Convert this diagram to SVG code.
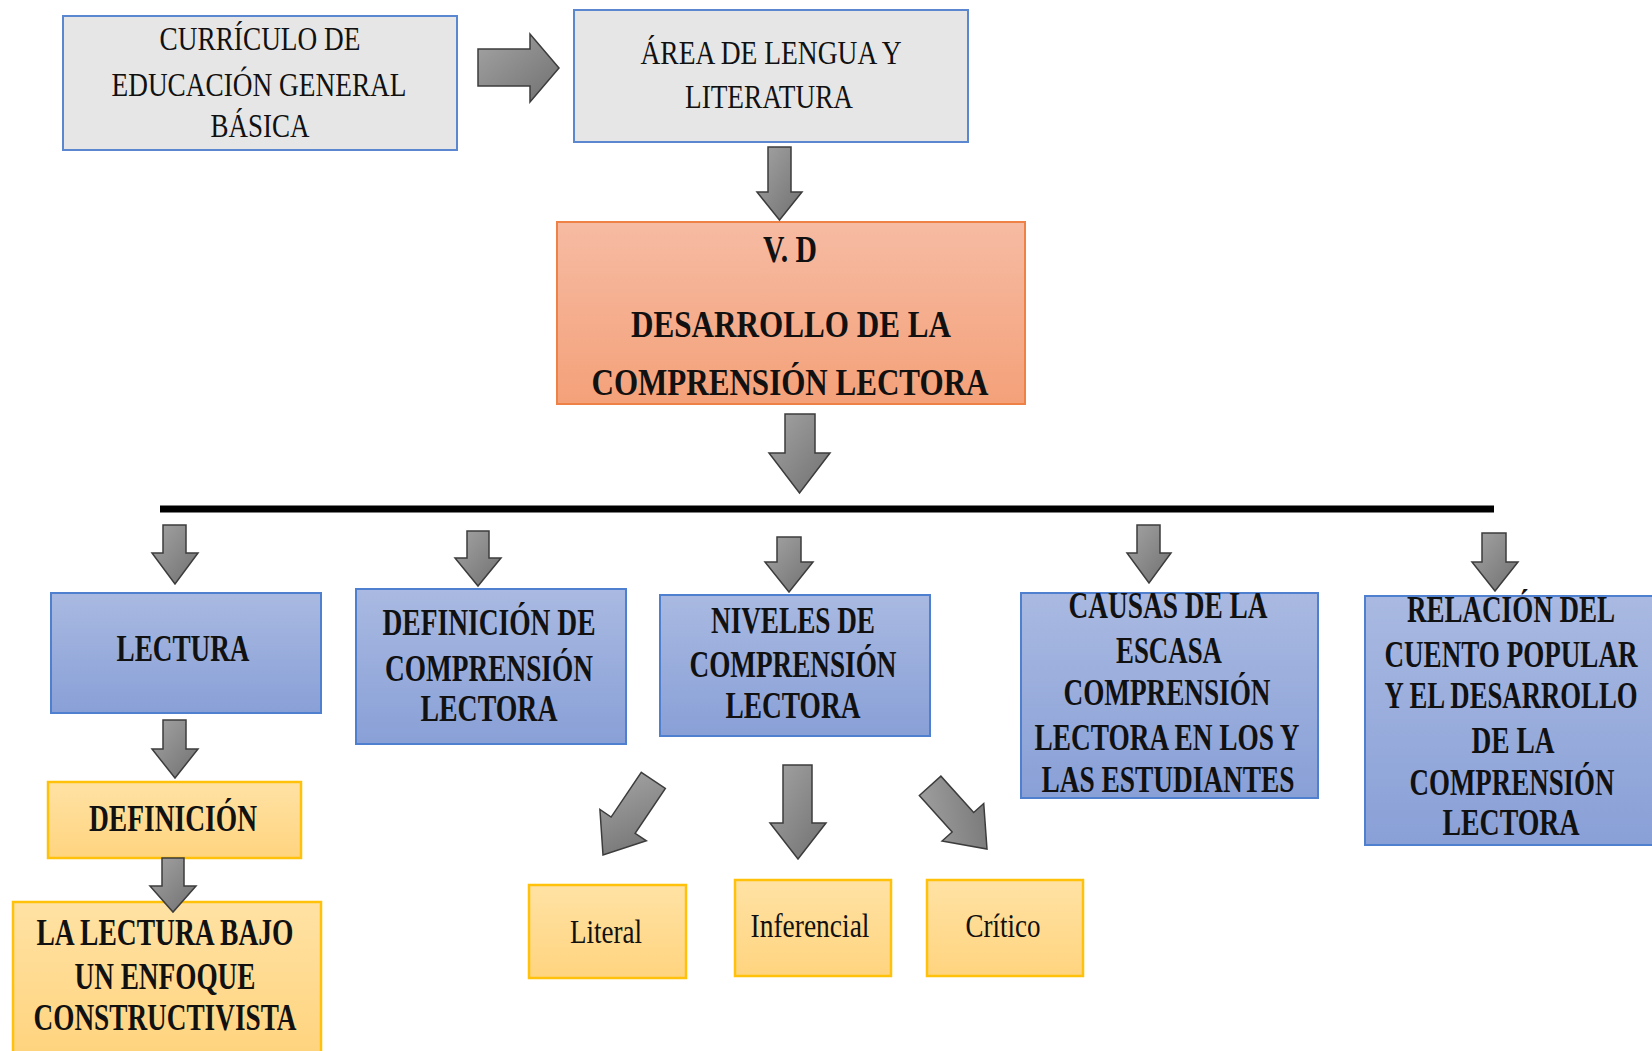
<svg xmlns="http://www.w3.org/2000/svg" width="1652" height="1051" viewBox="0 0 1652 1051">
<defs>
<linearGradient id="gOrange" x1="0" y1="0" x2="0" y2="1"><stop offset="0" stop-color="#f6bba3"/><stop offset="1" stop-color="#f4a179"/></linearGradient>
<linearGradient id="gBlue" x1="0" y1="0" x2="0" y2="1"><stop offset="0" stop-color="#a9b9e1"/><stop offset="1" stop-color="#89a0d7"/></linearGradient>
<linearGradient id="gYellow" x1="0" y1="0" x2="0" y2="1"><stop offset="0" stop-color="#ffe2a4"/><stop offset="1" stop-color="#ffd47f"/></linearGradient>
<linearGradient id="gArrow" x1="0" y1="0" x2="1" y2="1"><stop offset="0" stop-color="#a4a4a4"/><stop offset="1" stop-color="#707070"/></linearGradient>
</defs>
<style>
.gray{fill:#e7e6e6;stroke:#5b87d1;stroke-width:2}
.orange{fill:url(#gOrange);stroke:#ee8146;stroke-width:2}
.blue{fill:url(#gBlue);stroke:#4f7fcf;stroke-width:2}
.yellow{fill:url(#gYellow);stroke:#ffc10a;stroke-width:2.5}
.bluebd{fill:none;stroke:#4f7fcf;stroke-width:2}
.yellowbd{fill:none;stroke:#ffc10a;stroke-width:2.5}
.arr{fill:url(#gArrow);stroke:#3c3c3c;stroke-width:1.5;stroke-linejoin:miter}
text{font-family:"Liberation Serif","Times New Roman",serif;fill:#111;text-anchor:middle}
.r{font-size:34px}
.b{font-size:37px;font-weight:bold}
.vd{font-size:38px;font-weight:bold}
</style>
<rect width="1652" height="1051" fill="#ffffff"/>

<g id="curriculo">
<rect class="gray" x="63" y="16" width="394" height="134"/>
<text class="r" x="260" y="50" textLength="201" lengthAdjust="spacingAndGlyphs">CURRÍCULO DE</text>
<text class="r" x="259" y="96" textLength="295" lengthAdjust="spacingAndGlyphs">EDUCACIÓN GENERAL</text>
<text class="r" x="260" y="137" textLength="99" lengthAdjust="spacingAndGlyphs">BÁSICA</text>
</g>

<g id="area">
<rect class="gray" x="574" y="10" width="394" height="132"/>
<text class="r" x="771" y="64" textLength="261" lengthAdjust="spacingAndGlyphs">ÁREA DE LENGUA Y</text>
<text class="r" x="769" y="108" textLength="168" lengthAdjust="spacingAndGlyphs">LITERATURA</text>
</g>

<g id="vd">
<rect class="orange" x="557" y="222" width="468" height="182"/>
<text class="vd" x="790" y="262" textLength="54" lengthAdjust="spacingAndGlyphs">V. D</text>
<text class="vd" x="791" y="337" textLength="320" lengthAdjust="spacingAndGlyphs">DESARROLLO DE LA</text>
<text class="vd" x="790" y="395" textLength="397" lengthAdjust="spacingAndGlyphs">COMPRENSIÓN LECTORA</text>
</g>

<g id="lectura">
<rect class="blue" x="51" y="593" width="270" height="120"/>
<text class="b" x="183" y="661" textLength="133" lengthAdjust="spacingAndGlyphs">LECTURA</text>
</g>

<g id="definicion-comprension">
<rect class="blue" x="356" y="589" width="270" height="155"/>
<text class="b" x="489" y="635" textLength="213" lengthAdjust="spacingAndGlyphs">DEFINICIÓN DE</text>
<text class="b" x="489" y="681" textLength="208" lengthAdjust="spacingAndGlyphs">COMPRENSIÓN</text>
<text class="b" x="489" y="721" textLength="137" lengthAdjust="spacingAndGlyphs">LECTORA</text>
</g>

<g id="niveles">
<rect class="blue" x="660" y="595" width="270" height="141"/>
<text class="b" x="793" y="633" textLength="164" lengthAdjust="spacingAndGlyphs">NIVELES DE</text>
<text class="b" x="793" y="677" textLength="207" lengthAdjust="spacingAndGlyphs">COMPRENSIÓN</text>
<text class="b" x="793" y="718" textLength="135" lengthAdjust="spacingAndGlyphs">LECTORA</text>
</g>

<g id="causas">
<rect class="blue" x="1021" y="593" width="297" height="205"/>
<text class="b" x="1168" y="618" textLength="199" lengthAdjust="spacingAndGlyphs">CAUSAS DE LA</text>
<text class="b" x="1169" y="663" textLength="106" lengthAdjust="spacingAndGlyphs">ESCASA</text>
<text class="b" x="1167" y="705" textLength="207" lengthAdjust="spacingAndGlyphs">COMPRENSIÓN</text>
<text class="b" x="1167" y="750" textLength="265" lengthAdjust="spacingAndGlyphs">LECTORA EN LOS Y</text>
<text class="b" x="1168" y="792" textLength="253" lengthAdjust="spacingAndGlyphs">LAS ESTUDIANTES</text>
</g>

<g id="relacion">
<rect x="1365" y="596" width="287" height="249" fill="url(#gBlue)"/>
<path class="bluebd" d="M1652,596 H1365 V845 H1652"/>
<text class="b" x="1511" y="622" textLength="208" lengthAdjust="spacingAndGlyphs">RELACIÓN DEL</text>
<text class="b" x="1511" y="667" textLength="253" lengthAdjust="spacingAndGlyphs">CUENTO POPULAR</text>
<text class="b" x="1511" y="708" textLength="253" lengthAdjust="spacingAndGlyphs">Y EL DESARROLLO</text>
<text class="b" x="1513" y="753" textLength="83" lengthAdjust="spacingAndGlyphs">DE LA</text>
<text class="b" x="1512" y="795" textLength="205" lengthAdjust="spacingAndGlyphs">COMPRENSIÓN</text>
<text class="b" x="1511" y="835" textLength="137" lengthAdjust="spacingAndGlyphs">LECTORA</text>
</g>

<g id="definicion">
<rect class="yellow" x="48" y="782" width="253" height="76"/>
<text class="b" x="173" y="831" textLength="168" lengthAdjust="spacingAndGlyphs">DEFINICIÓN</text>
</g>

<g id="constructivista">
<rect x="13" y="902" width="308" height="149" fill="url(#gYellow)"/>
<path class="yellowbd" d="M13,1051 V902 H321 V1051"/>
<text class="b" x="165" y="945" textLength="257" lengthAdjust="spacingAndGlyphs">LA LECTURA BAJO</text>
<text class="b" x="165" y="989" textLength="181" lengthAdjust="spacingAndGlyphs">UN ENFOQUE</text>
<text class="b" x="165" y="1030" textLength="263" lengthAdjust="spacingAndGlyphs">CONSTRUCTIVISTA</text>
</g>

<g id="literal">
<rect class="yellow" x="529" y="885" width="157" height="93"/>
<text class="r" x="606" y="943" textLength="72" lengthAdjust="spacingAndGlyphs">Literal</text>
</g>

<g id="inferencial">
<rect class="yellow" x="735" y="880" width="156" height="96"/>
<text class="r" x="810" y="937" textLength="119" lengthAdjust="spacingAndGlyphs">Inferencial</text>
</g>

<g id="critico">
<rect class="yellow" x="927" y="880" width="156" height="96"/>
<text class="r" x="1003" y="937" textLength="75" lengthAdjust="spacingAndGlyphs">Crítico</text>
</g>

<g id="connectors">
<line x1="160" y1="509" x2="1494" y2="509" stroke="#000" stroke-width="7"/>
<polygon class="arr" points="478,49 530,49 530,34 559,68 530,102 530,86 478,86"/>
<polygon class="arr" points="768,147 791,147 791,192 802,192 779.5,220 757,192 768,192"/>
<polygon class="arr" points="785,414 815,414 815,453 830,453 799.5,493 769,453 785,453"/>
<polygon class="arr" points="163,525 186,525 186,553 198,553 175,584 152,553 163,553"/>
<polygon class="arr" points="467,531 489,531 489,558 501,558 478,586 455,558 467,558"/>
<polygon class="arr" points="777,537 801,537 801,562 813,562 789,592 765,562 777,562"/>
<polygon class="arr" points="1137,525 1160,525 1160,553 1171,553 1149,583 1127,553 1137,553"/>
<polygon class="arr" points="1482,533 1506,533 1506,562 1518,562 1495,591 1472,562 1482,562"/>
<polygon class="arr" points="163,720 186,720 186,749 198,749 175,778 152,749 163,749"/>
<polygon class="arr" points="162,858 184,858 184,886 196,886 173,912 150,886 162,886"/>
<polygon class="arr" points="783,765 812,765 812,823 826,823 798,859 770,823 783,823"/>
<polygon class="arr" transform="translate(603,855) rotate(34)" points="-14.5,-90 14.5,-90 14.5,-36 28,-36 0,0 -28,-36 -14.5,-36"/>
<polygon class="arr" transform="translate(987,849) rotate(-42)" points="-14.5,-85 14.5,-85 14.5,-36 28,-36 0,0 -28,-36 -14.5,-36"/>
</g>
</svg>
